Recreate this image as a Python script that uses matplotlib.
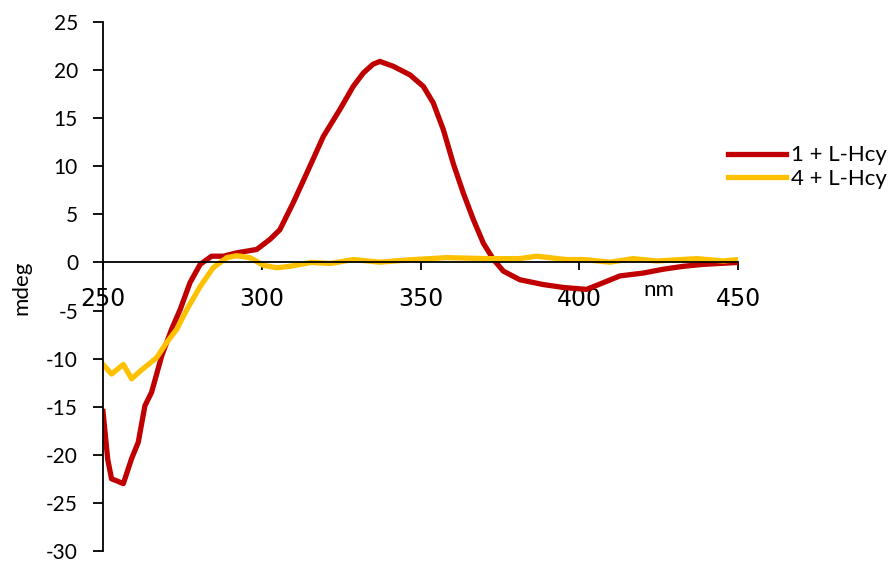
import numpy as np
import matplotlib.pyplot as plt

# CD spectra
nm_1 = [250, 251.5, 252.7, 254.3, 256.4, 259, 261.1, 263.2, 265.3, 268.5, 271.6, 274.3,
        277.4, 280.6, 284.2, 287.9, 292.1, 298.4, 302.6, 305.7, 309.9, 314.2,
        319.4, 324.6, 328.8, 332.0, 335, 337.2, 341.4, 346.7, 350.9, 354.0, 357.2,
        360.3, 363.5, 366.6, 369.8, 373.0, 376.1, 381.3, 388.7, 395, 402.3,
        407.6, 412.8, 420.2, 426.5, 432.8, 439, 450]
mdeg_1 = [-15.5, -20.5, -22.5, -22.7, -23.0, -20.4, -18.7, -14.9, -13.5, -9.7, -6.95, -4.9,
          -2.1, -0.2, 0.65, 0.65, 1.0, 1.35, 2.4, 3.4, 6.2, 9.3,
          13.1, 15.9, 18.3, 19.7, 20.6, 20.9, 20.4, 19.5, 18.3, 16.6, 13.8,
          10.3, 7.2, 4.5, 2.0, 0.3, -0.9, -1.8, -2.3, -2.6, -2.8,
          -2.1, -1.4, -1.1, -0.7, -0.4, -0.2, 0.0]

nm_4 = [250, 252.7, 256.4, 259, 261.7, 264.3, 266.9, 270.1, 273.2, 276.4, 280.6,
        284.7, 289, 292.1, 296.3, 300.5, 304.7, 308.9, 315.5, 321.8, 328.8,
        337.2, 347.7, 358.2, 370.8, 381.3, 386.6, 396, 401.3, 409.7, 417,
        424.4, 437, 445.4, 450]
mdeg_4 = [-10.6, -11.6, -10.6, -12.1, -11.3, -10.6, -9.9, -8.3, -6.95, -4.9, -2.5,
          -0.55, 0.5, 0.7, 0.5, -0.3, -0.55, -0.4, 0.0, -0.1, 0.3,
          0.03, 0.3, 0.5, 0.4, 0.4, 0.65, 0.3, 0.3, 0.03, 0.4,
          0.15, 0.4, 0.15, 0.3]

xticks = [250, 300, 350, 400, 450]
yticks = list(range(-30, 30, 5))

fig = plt.figure(figsize=(8.88, 5.62), dpi=100)
ax = fig.add_axes([103 / 888, 1 - 551 / 562, (738 - 103) / 888, (551 - 22) / 562])

ax.plot(nm_1, mdeg_1, color='#C00000', lw=3.8, label='1 + L-Hcy', solid_joinstyle='round')
ax.plot(nm_4, mdeg_4, color='#FFC000', lw=3.8, label='4 + L-Hcy', solid_joinstyle='round')

ax.set_xlim(250, 450)
ax.set_ylim(-30, 25)
ax.spines['top'].set_visible(False)
ax.spines['right'].set_visible(False)
ax.spines['bottom'].set_position(('data', 0))
ax.spines['bottom'].set_linewidth(1.3)
ax.spines['left'].set_linewidth(1.3)

ax.set_xticks(xticks)
ax.set_xticklabels([str(t) for t in xticks], family='DejaVu Sans', fontsize=17)
ax.tick_params(axis='x', direction='out', length=6, width=1.3, pad=12)
ax.set_yticks(yticks)
ax.set_yticklabels([str(t) for t in yticks], family='Lato', fontsize=15)
ax.tick_params(axis='y', direction='out', length=7, width=1.3, pad=11)

fig.text(659 / 888, 1 - 290 / 562, 'nm', family='Lato', fontsize=16, ha='center', va='center')
fig.text(21 / 888, 1 - 288 / 562, 'mdeg', family='Lato', fontsize=16, ha='center', va='center',
         rotation=90)

fig.legend(loc='center left', bbox_to_anchor=(728 / 888, 1 - 167 / 562), frameon=False,
           prop={'family': 'Lato', 'size': 16}, handlelength=2.6, handletextpad=0.25,
           labelspacing=0.15, borderpad=0, borderaxespad=0)

fig.savefig('out.png', dpi=100)
